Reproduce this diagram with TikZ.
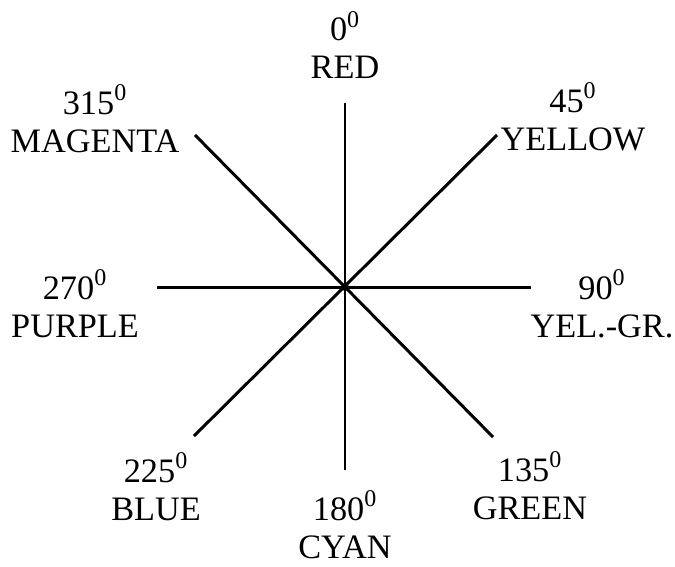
\documentclass[tikz,border=0pt]{standalone}
\usepackage{fontspec}
\setmainfont{Liberation Serif}
\usepackage{tikz}
\usetikzlibrary{
arrows.meta,
positioning,
calc
}

\begin{document}
\begin{tikzpicture}[
x=0.02cm,y=0.02cm,
hue/.style={
align=center,
inner sep=0pt,
font=\fontsize{19.5}{22}\selectfont
},
spoke/.style={line width=1.7pt}
]

\useasboundingbox (-345,287) rectangle (330,-279);

\coordinate (c) at (0,0);

\coordinate (n) at (0,184);
\coordinate (s) at (0,-183);
\coordinate (w) at (-188,0);
\coordinate (e) at (186,0);
\coordinate (nw) at (-150,152);
\coordinate (se) at (148,-150);
\coordinate (ne) at (152,152);
\coordinate (sw) at (-151,-149);

\node[hue] (red) at (0,242) {0\textsuperscript{0}\\RED};
\node[hue] (magenta) at (-250,168) {315\textsuperscript{0}\\MAGENTA};
\node[hue] (yellow) at (228,170) {45\textsuperscript{0}\\YELLOW};
\node[hue] (purple) at (-270,-17) {270\textsuperscript{0}\\PURPLE};
\node[hue] (yelgr) at (257,-17) {90\textsuperscript{0}\\YEL.-GR.};
\node[hue] (blue) at (-189,-200) {225\textsuperscript{0}\\BLUE};
\node[hue] (cyan) at (0,-238) {180\textsuperscript{0}\\CYAN};
\node[hue] (green) at (185,-199) {135\textsuperscript{0}\\GREEN};

\draw[spoke] (n) -- (s);
\draw[spoke] (w) -- (e);
\draw[spoke] (nw) -- (se);
\draw[spoke] (ne) -- (sw);

\fill (c) circle (4);

\end{tikzpicture}
\end{document}
